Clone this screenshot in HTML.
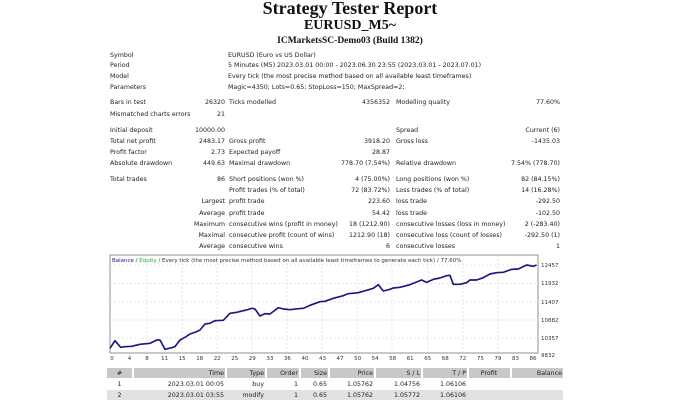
<!DOCTYPE html>
<html><head><meta charset="utf-8"><style>
body{margin:0;width:700px;height:400px;background:#fff;position:relative;overflow:hidden;font-family:"DejaVu Sans","Liberation Sans",sans-serif;color:#222}
.t{position:absolute;white-space:nowrap;font-size:6.3px;line-height:8px}
.r{text-align:right}
h1,h2,h3{position:absolute;left:0;width:700px;text-align:center;margin:0;font-family:"Liberation Serif",serif;font-weight:bold;color:#111}
.hdr{position:absolute;background:#c8c8c8;}
.cell{position:absolute;font-size:6.3px;line-height:9px;text-align:right;white-space:nowrap}
</style></head><body>
<h1 style="top:-2px;font-size:18px">Strategy Tester Report</h1>
<h2 style="top:18px;font-size:14px">EURUSD_M5~</h2>
<h3 style="top:36px;font-size:9.5px">ICMarketsSC-Demo03 (Build 1382)</h3>

<div class="t" style="left:110px;top:52px">Symbol</div><div class="t" style="left:228px;top:52px">EURUSD (Euro vs US Dollar)</div>
<div class="t" style="left:110px;top:62px">Period</div><div class="t" style="left:228px;top:62px">5 Minutes (M5) 2023.03.01 00:00 - 2023.06.30 23:55 (2023.03.01 - 2023.07.01)</div>
<div class="t" style="left:110px;top:73px">Model</div><div class="t" style="left:228px;top:73px">Every tick (the most precise method based on all available least timeframes)</div>
<div class="t" style="left:110px;top:84px">Parameters</div><div class="t" style="left:228px;top:84px">Magic=4350; Lots=0.65; StopLoss=150; MaxSpread=2;</div>

<div class="t" style="left:110px;top:99px">Bars in test</div><div class="t r" style="right:475px;top:99px">26320</div><div class="t" style="left:229px;top:99px">Ticks modelled</div><div class="t r" style="right:310px;top:99px">4356352</div><div class="t" style="left:396px;top:99px">Modelling quality</div><div class="t r" style="right:140px;top:99px">77.60%</div>
<div class="t" style="left:110px;top:111px">Mismatched charts errors</div><div class="t r" style="right:475px;top:111px">21</div>

<div class="t" style="left:110px;top:127px">Initial deposit</div><div class="t r" style="right:475px;top:127px">10000.00</div><div class="t" style="left:396px;top:127px">Spread</div><div class="t r" style="right:140px;top:127px">Current (6)</div>
<div class="t" style="left:110px;top:138px">Total net profit</div><div class="t r" style="right:475px;top:138px">2483.17</div><div class="t" style="left:229px;top:138px">Gross profit</div><div class="t r" style="right:310px;top:138px">3918.20</div><div class="t" style="left:396px;top:138px">Gross loss</div><div class="t r" style="right:140px;top:138px">-1435.03</div>
<div class="t" style="left:110px;top:149px">Profit factor</div><div class="t r" style="right:475px;top:149px">2.73</div><div class="t" style="left:229px;top:149px">Expected payoff</div><div class="t r" style="right:310px;top:149px">28.87</div>
<div class="t" style="left:110px;top:160px">Absolute drawdown</div><div class="t r" style="right:475px;top:160px">449.63</div><div class="t" style="left:229px;top:160px">Maximal drawdown</div><div class="t r" style="right:310px;top:160px">778.70 (7.54%)</div><div class="t" style="left:396px;top:160px">Relative drawdown</div><div class="t r" style="right:140px;top:160px">7.54% (778.70)</div>

<div class="t" style="left:110px;top:176px">Total trades</div><div class="t r" style="right:475px;top:176px">86</div><div class="t" style="left:229px;top:176px">Short positions (won %)</div><div class="t r" style="right:310px;top:176px">4 (75.00%)</div><div class="t" style="left:396px;top:176px">Long positions (won %)</div><div class="t r" style="right:140px;top:176px">82 (84.15%)</div>
<div class="t" style="left:229px;top:187px">Profit trades (% of total)</div><div class="t r" style="right:310px;top:187px">72 (83.72%)</div><div class="t" style="left:396px;top:187px">Loss trades (% of total)</div><div class="t r" style="right:140px;top:187px">14 (16.28%)</div>
<div class="t r" style="right:475px;top:198px">Largest</div><div class="t" style="left:229px;top:198px">profit trade</div><div class="t r" style="right:310px;top:198px">223.60</div><div class="t" style="left:396px;top:198px">loss trade</div><div class="t r" style="right:140px;top:198px">-292.50</div>
<div class="t r" style="right:475px;top:210px">Average</div><div class="t" style="left:229px;top:210px">profit trade</div><div class="t r" style="right:310px;top:210px">54.42</div><div class="t" style="left:396px;top:210px">loss trade</div><div class="t r" style="right:140px;top:210px">-102.50</div>
<div class="t r" style="right:475px;top:221px">Maximum</div><div class="t" style="left:229px;top:221px">consecutive wins (profit in money)</div><div class="t r" style="right:310px;top:221px">18 (1212.90)</div><div class="t" style="left:396px;top:221px">consecutive losses (loss in money)</div><div class="t r" style="right:140px;top:221px">2 (-283.40)</div>
<div class="t r" style="right:475px;top:232px">Maximal</div><div class="t" style="left:229px;top:232px">consecutive profit (count of wins)</div><div class="t r" style="right:310px;top:232px">1212.90 (18)</div><div class="t" style="left:396px;top:232px">consecutive loss (count of losses)</div><div class="t r" style="right:140px;top:232px">-292.50 (1)</div>
<div class="t r" style="right:475px;top:243px">Average</div><div class="t" style="left:229px;top:243px">consecutive wins</div><div class="t r" style="right:310px;top:243px">6</div><div class="t" style="left:396px;top:243px">consecutive losses</div><div class="t r" style="right:140px;top:243px">1</div>

<svg style="position:absolute;left:0;top:0" width="700" height="400">
<rect x="110" y="255" width="428" height="98" fill="#fff" stroke="#777" stroke-width="0.8"/>
<g stroke="#ccc" stroke-width="0.5" stroke-dasharray="2,2">
<line x1="110" x2="538" y1="265" y2="265"/><line x1="110" x2="538" y1="283.5" y2="283.5"/><line x1="110" x2="538" y1="302" y2="302"/><line x1="110" x2="538" y1="320" y2="320"/><line x1="110" x2="538" y1="338" y2="338"/>
<line x1="147" x2="147" y1="255" y2="353"/><line x1="182" x2="182" y1="255" y2="353"/><line x1="217" x2="217" y1="255" y2="353"/><line x1="252" x2="252" y1="255" y2="353"/><line x1="287" x2="287" y1="255" y2="353"/><line x1="322" x2="322" y1="255" y2="353"/><line x1="357" x2="357" y1="255" y2="353"/><line x1="392" x2="392" y1="255" y2="353"/><line x1="428" x2="428" y1="255" y2="353"/><line x1="463" x2="463" y1="255" y2="353"/><line x1="498" x2="498" y1="255" y2="353"/>
</g>
<g transform="translate(100,250) scale(0.3333)">
<polyline fill="none" stroke="#1a1a80" stroke-width="5" stroke-linejoin="round" points="30,295 45,272 62,292 75,290 95,289 120,283 150,280 170,270 180,270 195,298 215,293 225,290 240,270 255,262 270,252 290,245 300,240 315,222 330,220 345,212 370,211 390,190 410,187 440,180 455,175 465,177 480,198 495,191 510,192 535,173 550,177 570,179 595,176 610,175 630,166 660,155 675,154 700,145 730,137 745,131 775,128 800,121 820,115 835,104 850,123 870,118 880,114 900,112 930,104 965,90 980,97 1000,88 1020,84 1040,77 1050,76 1060,103 1080,103 1100,98 1110,90 1130,90 1150,83 1170,72 1190,68 1210,67 1235,58 1255,57 1270,50 1280,45 1300,49 1310,45"/>
</g>
<g font-family="DejaVu Sans,sans-serif" font-size="5.5" fill="#333">
<text x="112" y="262"><tspan fill="#1a1a80">Balance</tspan> / <tspan fill="#2a2">Equity</tspan> / Every tick (the most precise method based on all available least timeframes to generate each tick) / 77.60%</text>
<text x="541" y="267">12457</text><text x="541" y="285">11932</text><text x="541" y="304">11407</text><text x="541" y="322">10882</text><text x="541" y="340">10357</text><text x="541" y="357">9832</text>
<g text-anchor="middle">
<text x="112" y="360">0</text><text x="129.5" y="360">4</text><text x="147" y="360">8</text><text x="164.6" y="360">11</text><text x="182.2" y="360">15</text><text x="199.7" y="360">18</text><text x="217.2" y="360">22</text><text x="234.8" y="360">25</text><text x="252.3" y="360">29</text><text x="269.9" y="360">33</text><text x="287.4" y="360">36</text><text x="305" y="360">40</text><text x="322.5" y="360">43</text><text x="340" y="360">47</text><text x="357.6" y="360">50</text><text x="375.1" y="360">54</text><text x="392.7" y="360">58</text><text x="410.2" y="360">61</text><text x="427.8" y="360">65</text><text x="445.3" y="360">68</text><text x="462.8" y="360">72</text><text x="480.4" y="360">75</text><text x="497.9" y="360">79</text><text x="515.5" y="360">83</text><text x="533" y="360">86</text>
</g></g>
</svg>

<div class="hdr" style="left:107px;top:368px;width:456px;height:10px"></div>
<div class="hdr" style="left:107px;top:390px;width:456px;height:10px;background:#e2e2e2"></div>
<div style="position:absolute;left:132px;top:368px;width:2px;height:10px;background:#fff"></div>
<div style="position:absolute;left:225px;top:368px;width:2px;height:10px;background:#fff"></div>
<div style="position:absolute;left:265px;top:368px;width:2px;height:10px;background:#fff"></div>
<div style="position:absolute;left:299px;top:368px;width:2px;height:10px;background:#fff"></div>
<div style="position:absolute;left:328px;top:368px;width:2px;height:10px;background:#fff"></div>
<div style="position:absolute;left:374px;top:368px;width:2px;height:10px;background:#fff"></div>
<div style="position:absolute;left:421px;top:368px;width:2px;height:10px;background:#fff"></div>
<div style="position:absolute;left:467px;top:368px;width:2px;height:10px;background:#fff"></div>
<div style="position:absolute;left:510px;top:368px;width:2px;height:10px;background:#fff"></div>

<div class="cell" style="left:107px;width:25px;top:369px;text-align:center">#</div>
<div class="cell" style="left:134px;width:90px;top:369px">Time</div>
<div class="cell" style="left:227px;width:37px;top:369px">Type</div>
<div class="cell" style="left:267px;width:31px;top:369px">Order</div>
<div class="cell" style="left:301px;width:26px;top:369px">Size</div>
<div class="cell" style="left:330px;width:43px;top:369px">Price</div>
<div class="cell" style="left:376px;width:44px;top:369px">S / L</div>
<div class="cell" style="left:423px;width:43px;top:369px">T / P</div>
<div class="cell" style="left:469px;width:40px;top:369px;text-align:center">Profit</div>
<div class="cell" style="left:512px;width:50px;top:369px">Balance</div>

<div class="cell" style="left:107px;width:25px;top:380px;text-align:center">1</div>
<div class="cell" style="left:134px;width:90px;top:380px">2023.03.01 00:05</div>
<div class="cell" style="left:227px;width:37px;top:380px">buy</div>
<div class="cell" style="left:267px;width:31px;top:380px">1</div>
<div class="cell" style="left:301px;width:26px;top:380px">0.65</div>
<div class="cell" style="left:330px;width:43px;top:380px">1.05762</div>
<div class="cell" style="left:376px;width:44px;top:380px">1.04756</div>
<div class="cell" style="left:423px;width:43px;top:380px">1.06106</div>

<div class="cell" style="left:107px;width:25px;top:391px;text-align:center">2</div>
<div class="cell" style="left:134px;width:90px;top:391px">2023.03.01 03:55</div>
<div class="cell" style="left:227px;width:37px;top:391px">modify</div>
<div class="cell" style="left:267px;width:31px;top:391px">1</div>
<div class="cell" style="left:301px;width:26px;top:391px">0.65</div>
<div class="cell" style="left:330px;width:43px;top:391px">1.05762</div>
<div class="cell" style="left:376px;width:44px;top:391px">1.05772</div>
<div class="cell" style="left:423px;width:43px;top:391px">1.06106</div>
</body></html>
